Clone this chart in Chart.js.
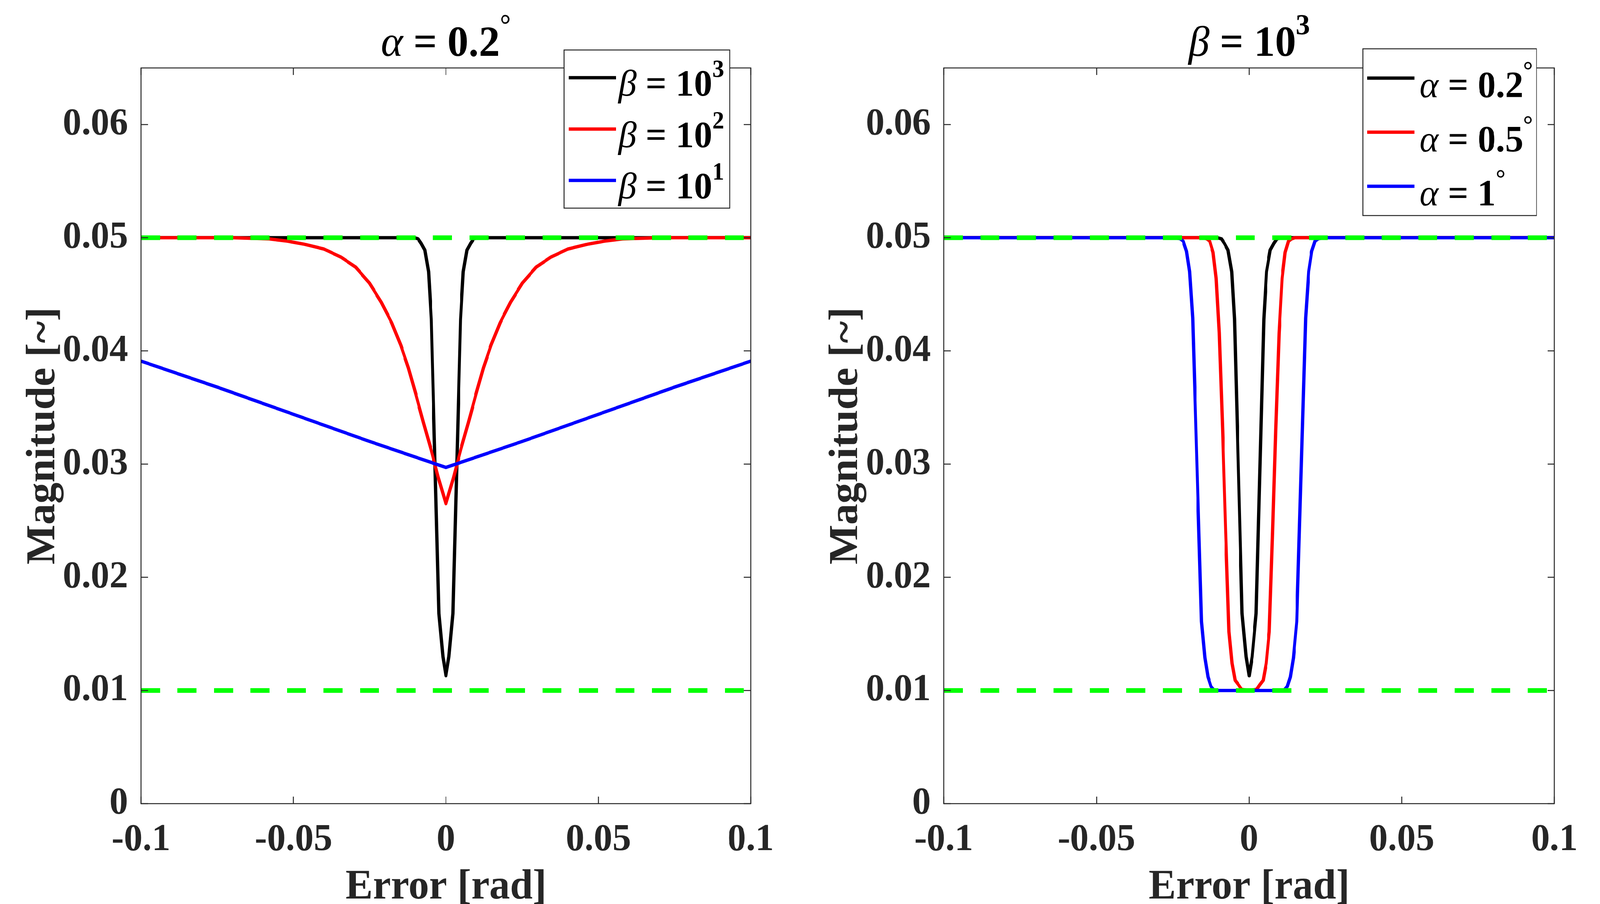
<!DOCTYPE html>
<html>
<head>
<meta charset="utf-8">
<script src="https://cdn.jsdelivr.net/npm/chart.js@4.4.1/dist/chart.umd.min.js"></script>
<style>
  html, body { margin: 0; padding: 0; background: #fff; overflow: hidden; }
  #wrap { position: relative; width: 4209px; height: 2315px; transform-origin: 0 0; }
  canvas { position: absolute; top: 0; }
  #left { left: 0; }
  #right { left: 2104px; }
</style>
</head>
<body>
<div id="wrap">
  <canvas id="left" width="2104" height="2315"></canvas>
  <canvas id="right" width="2105" height="2315"></canvas>
</div>
<script>
// tick values
var xTicks = [-0.1, -0.05, 0, 0.05, 0.1];
var yTicks = [0, 0.01, 0.02, 0.03, 0.04, 0.05, 0.06];

// beta = 10^3, alpha = 0.2 deg (same curve in both panels)
var xB3 = [-0.1, -0.0104, -0.0091, -0.0081, -0.0069, -0.0057, -0.0048, -0.0023, -0.0010, 0,
           0.0010, 0.0023, 0.0048, 0.0057, 0.0069, 0.0081, 0.0091, 0.0104, 0.1];
var yB3 = [0.05, 0.05, 0.0499, 0.0495, 0.0489, 0.0470, 0.0428, 0.0168, 0.0130, 0.0113,
           0.0130, 0.0168, 0.0428, 0.0470, 0.0489, 0.0495, 0.0499, 0.05, 0.05];

// beta = 10^2
var xB2 = [-0.1, -0.07, -0.058, -0.052, -0.046, -0.040, -0.0345, -0.0296, -0.0251, -0.0212, -0.0178, -0.0148,
           -0.0123, -0.0099, -0.0074, -0.0049, -0.0025, 0,
           0.0025, 0.0049, 0.0074, 0.0099, 0.0123, 0.0148, 0.0178, 0.0212, 0.0251, 0.0296, 0.0345,
           0.040, 0.046, 0.052, 0.058, 0.07, 0.1];
var yB2 = [0.05, 0.05, 0.0499, 0.0497, 0.0494, 0.0490, 0.0483, 0.0474, 0.0460, 0.0443, 0.0425, 0.0405,
           0.0385, 0.0362, 0.0337, 0.0313, 0.0288, 0.0265,
           0.0288, 0.0313, 0.0337, 0.0362, 0.0385, 0.0405, 0.0425, 0.0443, 0.0460, 0.0474, 0.0483,
           0.0490, 0.0494, 0.0497, 0.0499, 0.05, 0.05];

// beta = 10^1
var xB1 = [-0.1, -0.075, -0.05, -0.025, 0, 0.025, 0.05, 0.075, 0.1];
var yB1 = [0.0391, 0.0368, 0.0344, 0.0320, 0.0297, 0.0320, 0.0344, 0.0368, 0.0391];

// alpha = 0.5 deg
var xA05 = [-0.1, -0.0149, -0.0139, -0.0129, -0.0118, -0.0108, -0.0098, -0.0087, -0.0077, -0.0066, -0.0056, -0.0046, -0.0035, -0.0025, 0,
            0.0025, 0.0035, 0.0046, 0.0056, 0.0066, 0.0077, 0.0087, 0.0098, 0.0108, 0.0118, 0.0129, 0.0139, 0.0149, 0.1];
var yA05 = [0.05, 0.05, 0.0499, 0.0497, 0.0487, 0.0464, 0.0416, 0.0330, 0.0241, 0.0152, 0.0124, 0.0109, 0.0105, 0.0101, 0.0100,
            0.0101, 0.0105, 0.0109, 0.0124, 0.0152, 0.0241, 0.0330, 0.0416, 0.0464, 0.0487, 0.0497, 0.0499, 0.05, 0.05];

// alpha = 1 deg
var xA1 = [-0.1, -0.0241, -0.0226, -0.0216, -0.0205, -0.0195, -0.0185, -0.0156, -0.0145, -0.0135, -0.0125, -0.0114, 0,
           0.0114, 0.0125, 0.0135, 0.0145, 0.0156, 0.0185, 0.0195, 0.0205, 0.0216, 0.0226, 0.0241, 0.1];
var yA1 = [0.05, 0.05, 0.0499, 0.0497, 0.0488, 0.0470, 0.0429, 0.0161, 0.0129, 0.0112, 0.01035, 0.0100, 0.0100,
           0.0100, 0.01035, 0.0112, 0.0129, 0.0161, 0.0429, 0.0470, 0.0488, 0.0497, 0.0499, 0.05, 0.05];

// green dashed bounds
var xBound = [-0.1, 0.1];
var yUpper = [0.05, 0.05];
var yLower = [0.01, 0.01];

var leftLabels = ['β = 10³', 'β = 10²', 'β = 10¹'];
var rightLabels = ['α = 0.2°', 'α = 0.5°', 'α = 1°'];
var leftTitle = 'α = 0.2°';
var rightTitle = 'β = 10³';

var FONT = 'Liberation Serif';
var AXIS = '#262626';

// stretch the 4209x2315 figure over the whole window if the viewport differs
var fitX = window.innerWidth / 4209, fitY = window.innerHeight / 2315;
if (fitX > 0 && fitY > 0 && (Math.abs(fitX - 1) > 0.002 || Math.abs(fitY - 1) > 0.002)) {
  document.getElementById('wrap').style.transform = 'scale(' + fitX + ',' + fitY + ')';
}

function pts(xs, ys) {
  return xs.map(function (x, i) { return { x: x, y: ys[i] }; });
}

// split a label into normal / greek (italic) / superscript runs
var SUP = { '¹': '1', '²': '2', '³': '3', '°': '°' };
function runs(str) {
  var out = [];
  for (var ch of str) {
    var kind = SUP[ch] ? 'sup' : (/[α-ω]/.test(ch) ? 'greek' : 'norm');
    var t = SUP[ch] || ch;
    var last = out[out.length - 1];
    if (last && last.kind === kind) last.t += t;
    else out.push({ kind: kind, t: t });
  }
  return out;
}
function fontFor(kind, size) {
  if (kind === 'greek') return 'italic ' + size + 'px "' + FONT + '"';
  if (kind === 'sup') return 'bold ' + Math.round(size * 0.66) + 'px "' + FONT + '"';
  return 'bold ' + size + 'px "' + FONT + '"';
}
function drawRich(ctx, str, x, y, size, align) {
  var rs = runs(str), w = 0;
  rs.forEach(function (r) { ctx.font = fontFor(r.kind, size); r.w = ctx.measureText(r.t).width; w += r.w; });
  var cx = align === 'center' ? x - w / 2 : x;
  ctx.textAlign = 'left';
  ctx.textBaseline = 'alphabetic';
  rs.forEach(function (r) {
    ctx.font = fontFor(r.kind, size);
    ctx.fillText(r.t, cx, r.kind === 'sup' ? y - size * 0.5 : y);
    cx += r.w;
  });
}

// box, inward ticks, title and legend like the matlab figure
var framePlugin = {
  id: 'frame',
  afterDraw: function (chart, args, o) {
    var ctx = chart.ctx, a = chart.chartArea, sx = chart.scales.x, sy = chart.scales.y;
    ctx.save();
    ctx.strokeStyle = AXIS;
    ctx.lineWidth = 2.5;
    ctx.strokeRect(a.left, a.top, a.right - a.left, a.bottom - a.top);
    ctx.beginPath();
    sx.ticks.forEach(function (t) {
      var px = sx.getPixelForValue(t.value);
      ctx.moveTo(px, a.bottom); ctx.lineTo(px, a.bottom - 18);
      ctx.moveTo(px, a.top); ctx.lineTo(px, a.top + 18);
    });
    sy.ticks.forEach(function (t) {
      var py = sy.getPixelForValue(t.value);
      ctx.moveTo(a.left, py); ctx.lineTo(a.left + 18, py);
      ctx.moveTo(a.right, py); ctx.lineTo(a.right - 18, py);
    });
    ctx.stroke();

    ctx.fillStyle = '#000';
    drawRich(ctx, o.title, (a.left + a.right) / 2, 143, 110, 'center');

    var b = o.box;
    ctx.fillStyle = '#fff';
    ctx.fillRect(b.x, b.y, b.w, b.h);
    ctx.strokeStyle = AXIS;
    ctx.lineWidth = 2.5;
    ctx.strokeRect(b.x, b.y, b.w, b.h);
    o.entries.forEach(function (i, k) {
      var ds = chart.data.datasets[i];
      var cy = b.y + b.first + k * b.step;
      ctx.strokeStyle = ds.borderColor;
      ctx.lineWidth = 8.5;
      ctx.beginPath();
      ctx.moveTo(b.x + 12, cy);
      ctx.lineTo(b.x + 136, cy);
      ctx.stroke();
      ctx.fillStyle = '#000';
      drawRich(ctx, ds.label, b.x + b.tx, cy + b.ty, 96, 'left');
    });
    ctx.restore();
  }
};

function curve(label, xs, ys, color, order) {
  return {
    label: label, data: pts(xs, ys), borderColor: color, borderWidth: 8.5,
    pointRadius: 0, tension: 0, fill: false, borderJoinStyle: 'round', order: order
  };
}
function bound(ys) {
  return {
    label: '', data: pts(xBound, ys), borderColor: '#00ff00', borderWidth: 12,
    borderDash: [50, 46], pointRadius: 0, fill: false, order: 0
  };
}

function makeChart(id, sets, title, box, yWidth, padRight, yTitlePad) {
  return new Chart(document.getElementById(id), {
    type: 'line',
    data: { datasets: sets },
    options: {
      responsive: false,
      animation: false,
      devicePixelRatio: 1,
      events: [],
      layout: { padding: { top: 174, right: padRight, left: 0, bottom: 0 } },
      plugins: {
        legend: { display: false },
        tooltip: { enabled: false },
        frame: { title: title, box: box, entries: [0, 1, 2] }
      },
      scales: {
        x: {
          type: 'linear', min: -0.1, max: 0.1,
          afterBuildTicks: function (s) { s.ticks = xTicks.map(function (v) { return { value: v }; }); },
          afterFit: function (s) { s.height = 257; },
          grid: { display: false, drawTicks: false },
          border: { display: false },
          ticks: {
            autoSkip: false, maxRotation: 0, padding: 35, color: AXIS,
            font: { family: FONT, size: 98, weight: 'bold' },
            callback: function (v) { return String(v); }
          },
          title: {
            display: true, text: 'Error [rad]', color: AXIS,
            font: { family: FONT, size: 108, weight: 'bold' },
            padding: { top: 0, bottom: -23 }
          }
        },
        y: {
          type: 'linear', min: 0, max: 0.065,
          afterBuildTicks: function (s) { s.ticks = yTicks.map(function (v) { return { value: v }; }); },
          afterFit: function (s) { s.width = yWidth; },
          grid: { display: false, drawTicks: false },
          border: { display: false },
          ticks: {
            padding: 34, color: AXIS,
            font: { family: FONT, size: 98, weight: 'bold' },
            callback: function (v) { return String(v); }
          },
          title: {
            display: true, text: 'Magnitude [~]', color: AXIS,
            font: { family: FONT, size: 108, weight: 'bold' },
            padding: { top: yTitlePad, bottom: 0 }
          }
        }
      }
    },
    plugins: [framePlugin]
  });
}

makeChart('left', [
  curve(leftLabels[0], xB3, yB3, '#000000', 3),
  curve(leftLabels[1], xB2, yB2, '#ff0000', 2),
  curve(leftLabels[2], xB1, yB1, '#0000ff', 1),
  bound(yUpper),
  bound(yLower)
], leftTitle, { x: 1484, y: 128, w: 436, h: 405, first: 71, step: 131.5, tx: 143, ty: 46 }, 371, 129, 50);

makeChart('right', [
  curve(rightLabels[0], xB3, yB3, '#000000', 3),
  curve(rightLabels[1], xA05, yA05, '#ff0000', 2),
  curve(rightLabels[2], xA1, yA1, '#0000ff', 1),
  bound(yUpper),
  bound(yLower)
], rightTitle, { x: 1481, y: 125, w: 457, h: 427, first: 75, step: 138.5, tx: 149, ty: 49 }, 379, 120, 58);
</script>
</body>
</html>
